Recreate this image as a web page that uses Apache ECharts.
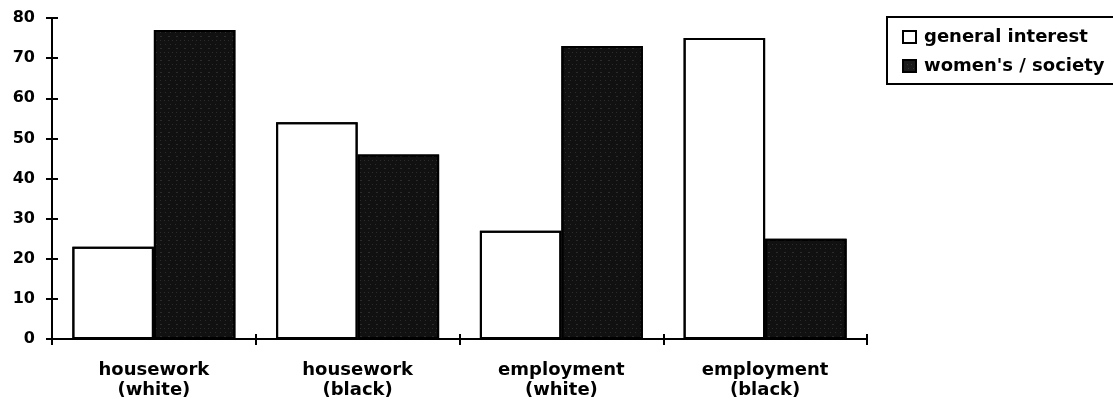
<!DOCTYPE html>
<html>
<head>
<meta charset="utf-8">
<script src="https://cdn.jsdelivr.net/npm/echarts@6/dist/echarts.min.js"></script>
<style>
  html, body { margin: 0; padding: 0; background: #fff; }
  #chart { width: 1113px; height: 408px; }
</style>
</head>
<body>
<div id="chart"></div>
<script>
// data
const categories = ['housework\n(white)', 'housework\n(black)', 'employment\n(white)', 'employment\n(black)']
const generalInterest = [23, 54, 27, 75]
const womensSociety = [77, 46, 73, 25]

const myChart = echarts.init(document.getElementById('chart'))
const font = '"DejaVu Sans", "Liberation Sans", Arial, sans-serif'

const tickStyle = { color: '#000', width: 2 }
const noDecal = { symbol: 'none' }

const option = {
  animation: false,
  backgroundColor: '#fff',
  aria: { enabled: true, decal: { show: true } },
  grid: { left: 52, right: 246, top: 18, bottom: 69 },
  legend: {
    orient: 'vertical',
    left: 887,
    top: 17,
    padding: [11, 40, 9, 15],
    itemGap: 11,
    itemWidth: 13,
    itemHeight: 12,
    borderColor: '#000',
    borderWidth: 2,
    textStyle: { fontFamily: font, fontWeight: 'bold', fontSize: 18, color: '#000', padding: [0, 0, 0, 3] },
    data: [
      { name: 'general interest', icon: 'rect', itemStyle: { color: '#fff', borderColor: '#000', borderWidth: 2, decal: noDecal } },
      { name: "women's / society", icon: 'rect', itemStyle: { color: '#1a1a1a', borderColor: '#000', borderWidth: 2 } }
    ]
  },
  xAxis: [
    {
      type: 'category',
      data: categories,
      axisLine: { lineStyle: { color: '#000', width: 2 } },
      axisTick: { show: true, length: 6, lineStyle: tickStyle },
      axisLabel: {
        margin: 21,
        lineHeight: 20,
        fontFamily: font,
        fontWeight: 'bold',
        fontSize: 18,
        color: '#000'
      }
    },
    {
      // second copy only to make the ticks cross the axis line
      type: 'category',
      position: 'bottom',
      data: categories,
      axisLine: { show: false },
      axisTick: { show: true, inside: true, length: 5, lineStyle: tickStyle },
      axisLabel: { show: false }
    }
  ],
  yAxis: [
    {
      type: 'value',
      min: 0,
      max: 80,
      interval: 10,
      splitLine: { show: false },
      axisLine: { show: true, lineStyle: { color: '#000', width: 2 } },
      axisTick: { show: true, length: 6, lineStyle: tickStyle },
      axisLabel: {
        margin: 17,
        fontFamily: font,
        fontWeight: 'bold',
        fontSize: 16,
        color: '#000'
      }
    },
    {
      type: 'value',
      position: 'left',
      min: 0,
      max: 80,
      interval: 10,
      splitLine: { show: false },
      axisLine: { show: false },
      axisTick: { show: true, inside: true, length: 6, lineStyle: tickStyle },
      axisLabel: { show: false }
    }
  ],
  series: [
    {
      name: 'general interest',
      type: 'bar',
      barGap: '0%',
      barCategoryGap: '20%',
      itemStyle: { color: '#fff', borderColor: '#000', borderWidth: 2, decal: noDecal },
      data: generalInterest
    },
    {
      name: "women's / society",
      type: 'bar',
      itemStyle: {
        color: '#111',
        borderColor: '#000',
        borderWidth: 2,
        decal: {
          symbol: 'rect',
          symbolSize: 0.5,
          color: 'rgba(255,255,255,0.45)',
          dashArrayX: [[1, 4], [2, 6], [1, 3]],
          dashArrayY: [1, 3],
          rotation: 0
        }
      },
      data: womensSociety
    }
  ]
}

myChart.setOption(option)
window.addEventListener('resize', function() {
  myChart.resize()
})
</script>
</body>
</html>
